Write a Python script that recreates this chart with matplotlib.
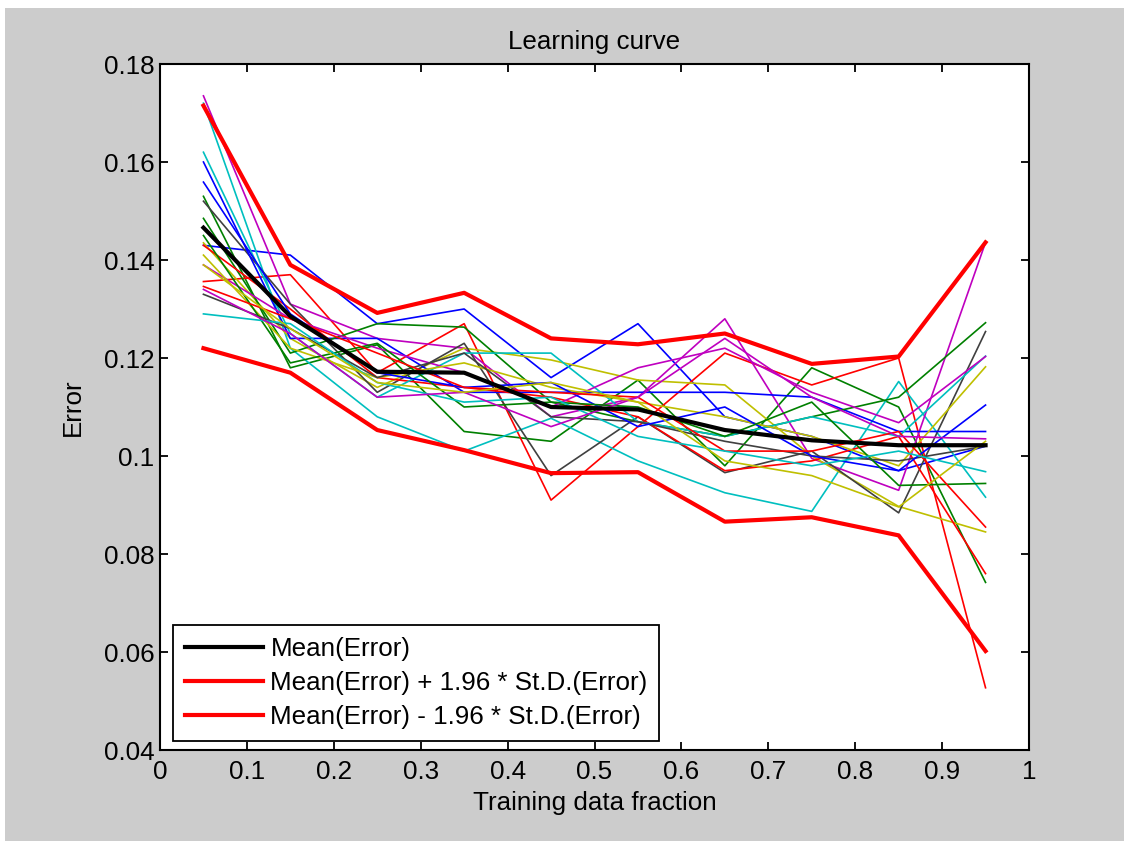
import numpy as np
import matplotlib.pyplot as plt
from matplotlib.patches import Rectangle

plt.rcParams['font.family'] = ['Liberation Sans', 'DejaVu Sans']

# fractions of the training data used for each point
fractions = [0.05, 0.15, 0.25, 0.35, 0.45, 0.55, 0.65, 0.75, 0.85, 0.95]

# error of each individual run
runs = [
    [0.143, 0.141, 0.127, 0.130, 0.116, 0.127, 0.108, 0.104, 0.097, 0.102],
    [0.153, 0.118, 0.1227, 0.105, 0.103, 0.1155, 0.098, 0.118, 0.110, 0.0742],
    [0.1356, 0.137, 0.117, 0.127, 0.091, 0.106, 0.121, 0.1145, 0.120, 0.0527],
    [0.172, 0.122, 0.108, 0.101, 0.1077, 0.099, 0.0925, 0.0887, 0.1152, 0.0916],
    [0.1735, 0.131, 0.124, 0.122, 0.108, 0.112, 0.128, 0.0995, 0.093, 0.1436],
    [0.1435, 0.124, 0.114, 0.122, 0.1196, 0.1155, 0.1145, 0.100, 0.0897, 0.0845],
    [0.152, 0.131, 0.113, 0.123, 0.096, 0.108, 0.0966, 0.101, 0.0884, 0.1254],
    [0.160, 0.124, 0.124, 0.113, 0.113, 0.113, 0.113, 0.112, 0.105, 0.105],
    [0.1485, 0.121, 0.127, 0.1263, 0.111, 0.107, 0.104, 0.108, 0.112, 0.1272],
    [0.143, 0.130, 0.116, 0.114, 0.112, 0.108, 0.097, 0.099, 0.104, 0.076],
    [0.162, 0.125, 0.112, 0.121, 0.121, 0.107, 0.104, 0.108, 0.104, 0.1204],
    [0.139, 0.128, 0.122, 0.117, 0.110, 0.118, 0.122, 0.113, 0.1068, 0.1203],
    [0.141, 0.122, 0.116, 0.119, 0.114, 0.111, 0.108, 0.104, 0.098, 0.1182],
    [0.133, 0.126, 0.116, 0.121, 0.108, 0.107, 0.103, 0.100, 0.099, 0.102],
    [0.1559, 0.129, 0.117, 0.114, 0.115, 0.106, 0.110, 0.100, 0.097, 0.1104],
    [0.145, 0.119, 0.123, 0.110, 0.111, 0.110, 0.104, 0.111, 0.094, 0.0944],
    [0.1346, 0.128, 0.121, 0.114, 0.113, 0.112, 0.101, 0.101, 0.105, 0.0855],
    [0.129, 0.127, 0.115, 0.111, 0.112, 0.104, 0.101, 0.098, 0.101, 0.0968],
    [0.134, 0.125, 0.112, 0.113, 0.106, 0.112, 0.124, 0.112, 0.104, 0.1035],
    [0.139, 0.126, 0.115, 0.113, 0.115, 0.111, 0.099, 0.096, 0.0896, 0.103],
]

mean_err = [0.1466, 0.1285, 0.1172, 0.117, 0.110, 0.1095, 0.1053, 0.1032, 0.1022, 0.1022]
upper_err = [0.1715, 0.139, 0.1292, 0.1333, 0.124, 0.1228, 0.125, 0.1188, 0.1203, 0.1436]
lower_err = [0.122, 0.117, 0.1053, 0.1012, 0.0965, 0.0967, 0.0866, 0.0875, 0.0838, 0.0602]

# old matlab line colour order
colours = [(0, 0, 1), (0, 0.5, 0), (1, 0, 0), (0, 0.75, 0.75),
           (0.75, 0, 0.75), (0.75, 0.75, 0), (0.25, 0.25, 0.25)]

fs = 18.7

fig = plt.figure(figsize=(11.24, 8.41), dpi=100, facecolor='#cccccc')
fig.add_artist(Rectangle((0, 1 - 8 / 841), 1, 8 / 841, transform=fig.transFigure,
                         facecolor='white', edgecolor='none'))
fig.add_artist(Rectangle((0, 0), 5 / 1124, 1, transform=fig.transFigure,
                         facecolor='white', edgecolor='none'))
ax = fig.add_axes([160 / 1124, 1 - 750 / 841, 869 / 1124, 686 / 841])

for i, r in enumerate(runs):
    ax.plot(fractions, r, color=colours[i % len(colours)], lw=1.2)

ax.plot(fractions, mean_err, color='k', lw=3, label='Mean(Error)')
ax.plot(fractions, upper_err, color='r', lw=3, label='Mean(Error) + 1.96 * St.D.(Error)')
ax.plot(fractions, lower_err, color='r', lw=3, label='Mean(Error) - 1.96 * St.D.(Error)')

ax.set_xlim(0, 1)
ax.set_ylim(0.04, 0.18)
ax.set_xticks(np.arange(0, 1.01, 0.1))
ax.set_xticklabels(['0', '0.1', '0.2', '0.3', '0.4', '0.5', '0.6', '0.7', '0.8', '0.9', '1'])
ax.set_yticks(np.arange(0.04, 0.181, 0.02))
ax.set_yticklabels(['0.04', '0.06', '0.08', '0.1', '0.12', '0.14', '0.16', '0.18'])
ax.tick_params(direction='in', length=6, width=1.3, labelsize=fs, top=True, right=True)
ax.tick_params(axis='x', pad=7)
ax.tick_params(axis='y', pad=4)
for s in ax.spines.values():
    s.set_linewidth(1.5)

ax.set_title('Learning curve', fontsize=fs, pad=11)
ax.set_xlabel('Training data fraction', fontsize=fs, labelpad=5)
ax.set_ylabel('Error', fontsize=fs, labelpad=14)

leg = ax.legend(loc='lower left', bbox_to_anchor=(0.015, 0.013), borderaxespad=0,
                fontsize=fs, fancybox=False, framealpha=1, edgecolor='k',
                handlelength=3.0, handletextpad=0.3, borderpad=0.45, labelspacing=0.4)
leg.get_frame().set_linewidth(1.3)

fig.savefig('out.png', dpi=100, facecolor=fig.get_facecolor())
